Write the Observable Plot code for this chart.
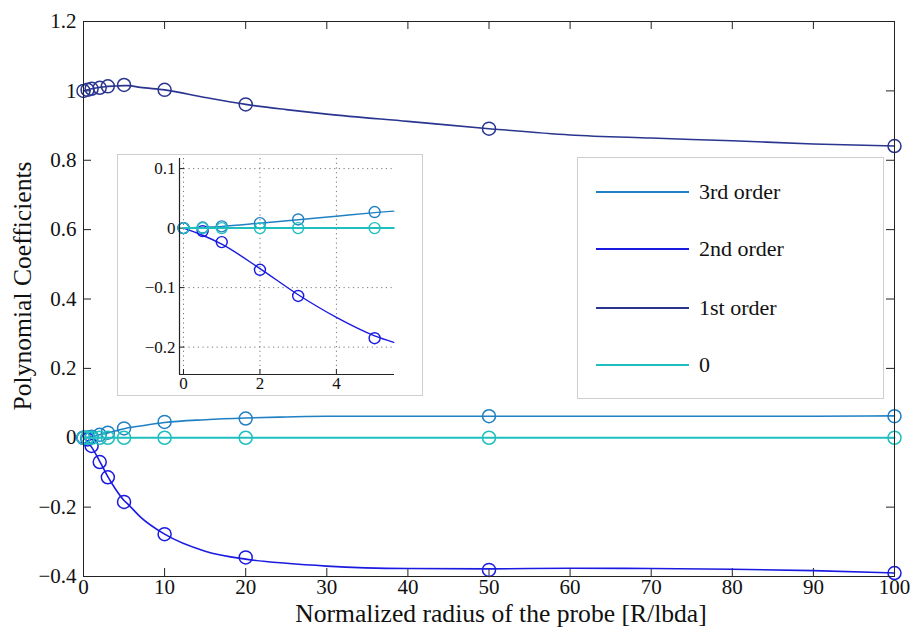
<!DOCTYPE html>
<html><head><meta charset="utf-8">
<script src="https://cdn.jsdelivr.net/npm/d3@7"></script>
<script src="https://cdn.jsdelivr.net/npm/@observablehq/plot@0.6"></script>
<style>
*{font-family:'Liberation Serif',serif !important;}
svg text{font-family:'Liberation Serif',serif !important;}
body{margin:0;background:#fff;}
#wrap{position:relative;width:917px;height:637px;color:#111;}
#wrap svg{display:block;}
#inset{position:absolute;left:117px;top:154px;width:306px;height:242px;border:1px solid #cfcfcf;background:#fff;box-sizing:border-box;}
#legend{position:absolute;left:577px;top:157px;width:307px;height:242px;border:1px solid #cfcfcf;background:#fff;box-sizing:border-box;}
.lrow{position:absolute;left:0;width:100%;height:0;}
.lline{position:absolute;left:18px;width:93px;height:2px;top:-1px;}
.ltext{position:absolute;left:121px;top:-13px;font-size:22px;line-height:26px;white-space:nowrap;}
</style></head>
<body><div id="wrap"></div>
<script>
// measured points (circles)
const radius = [0, 0.5, 1, 2, 3, 5, 10, 20, 50, 100];
const order0 = [0, 0, 0, 0, 0, 0, 0, 0, 0, 0];
const order1 = [1.000, 1.003, 1.006, 1.009, 1.013, 1.017, 1.003, 0.961, 0.891, 0.841];
const order2 = [0, -0.005, -0.0235, -0.070, -0.114, -0.185, -0.278, -0.345, -0.381, -0.390];
const order3 = [0, 0.001, 0.003, 0.0084, 0.0146, 0.027, 0.0456, 0.0554, 0.062, 0.062];

// fitted curves
const fitRadius = [0, 0.5, 1, 2, 3, 4, 5, 5.5, 7, 10, 15, 20, 25, 30, 40, 50, 60, 70, 80, 90, 100];
const fit0 = [0, 0, 0, 0, 0, 0, 0, 0, 0, 0, 0, 0, 0, 0, 0, 0, 0, 0, 0, 0, 0];
const fit1 = [1.000, 1.003, 1.006, 1.010, 1.013, 1.014, 1.015, 1.015, 1.010, 1.003, 0.981, 0.961, 0.946, 0.933, 0.912, 0.891, 0.873, 0.864, 0.856, 0.847, 0.841];
const fit2 = [0, -0.012, -0.027, -0.068, -0.112, -0.150, -0.181, -0.192, -0.228, -0.278, -0.327, -0.350, -0.362, -0.370, -0.377, -0.378, -0.376, -0.377, -0.379, -0.383, -0.390];
const fit3 = [0, 0.0015, 0.003, 0.0084, 0.014, 0.020, 0.026, 0.0286, 0.034, 0.044, 0.052, 0.057, 0.060, 0.062, 0.062, 0.062, 0.062, 0.062, 0.062, 0.062, 0.063];

const seriesNames = ["3rd order", "2nd order", "1st order", "0"];
const seriesColors = ["#1f80c4", "#1a1ae0", "#2a3590", "#1fbfbf"];
const seriesPoints = [order3, order2, order1, order0];
const seriesFits = [fit3, fit2, fit1, fit0];

const xTicks = [0, 10, 20, 30, 40, 50, 60, 70, 80, 90, 100];
const yTicks = [-0.4, -0.2, 0, 0.2, 0.4, 0.6, 0.8, 1, 1.2];
const xDomain = [0, 100];
const yDomain = [-0.4, 1.2];

const insetXTicks = [0, 2, 4];
const insetYTicks = [-0.2, -0.1, 0, 0.1];
const insetXDomain = [-0.105, 5.52];
const insetYDomain = [-0.246, 0.117];

const xLabel = "Normalized radius of the probe [R/lbda]";
const yLabel = "Polynomial Coefficients";

const fmt = d => String(d).replace("-", "\u2212");

const pts = seriesNames.map((s, k) => radius.map((r, i) => ({r, v: seriesPoints[k][i]})));
const fits = seriesNames.map((s, k) => fitRadius.map((r, i) => ({r, v: seriesFits[k][i]})));

const W = 917, H = 637, mL = 83, mR = 23, mT = 21, mB = 61;
const fW = W - mL - mR, fH = H - mT - mB, tl = 8;
const font = "'Liberation Serif', serif";

const mainMarks = [];
mainMarks.push(Plot.ruleX(xTicks, {x: d => d, insetTop: fH - tl, stroke: "#222"}));
mainMarks.push(Plot.ruleX(xTicks, {x: d => d, insetBottom: fH - tl, stroke: "#222"}));
mainMarks.push(Plot.ruleY(yTicks, {y: d => d, insetRight: fW - tl, stroke: "#222"}));
mainMarks.push(Plot.ruleY(yTicks, {y: d => d, insetLeft: fW - tl, stroke: "#222"}));
seriesNames.forEach((s, k) => {
  mainMarks.push(Plot.line(fits[k], {x: "r", y: "v", stroke: seriesColors[k], strokeWidth: k === 3 ? 2 : 1.6, curve: "monotone-x"}));
  mainMarks.push(Plot.dot(pts[k], {x: "r", y: "v", r: 6.5, stroke: seriesColors[k], fill: "none", strokeWidth: 1.5}));
});
mainMarks.push(Plot.frame({stroke: "#222"}));
mainMarks.push(Plot.axisX({ticks: xTicks, tickFormat: fmt, tickSize: 0, tickPadding: 3, fontSize: 21, label: null}));
mainMarks.push(Plot.axisY({ticks: yTicks, tickFormat: fmt, tickSize: 0, tickPadding: 7, fontSize: 21, label: null}));
mainMarks.push(Plot.text([xLabel], {frameAnchor: "bottom", dx: 12, dy: 37, fontSize: 25.6, lineAnchor: "middle", textAnchor: "middle", fill: "#111"}));
mainMarks.push(Plot.text([yLabel], {frameAnchor: "left", dx: -61, dy: -13, rotate: -90, fontSize: 25.6, lineAnchor: "middle", textAnchor: "middle", fill: "#111"}));

const main = Plot.plot({
  width: W, height: H, marginLeft: mL, marginRight: mR, marginTop: mT, marginBottom: mB,
  style: {background: "white", color: "#111", overflow: "visible", fontFamily: font},
  x: {domain: xDomain}, y: {domain: yDomain},
  marks: mainMarks
});

const wrap = document.getElementById("wrap");
wrap.appendChild(main);

// inset
const iW = 304, iH = 240, imL = 61, imR = 28, imT = 3, imB = 21;
const ifW = iW - imL - imR, ifH = iH - imT - imB, itl = 5;
const insetMarks = [
  Plot.gridX({ticks: insetXTicks, stroke: "#777", strokeOpacity: 1, strokeDasharray: "1.2,3.5"}),
  Plot.gridY({ticks: insetYTicks, stroke: "#777", strokeOpacity: 1, strokeDasharray: "1.2,3.5"}),
  Plot.ruleX(insetXTicks, {x: d => d, insetTop: ifH - itl, stroke: "#222"}),
  Plot.ruleY(insetYTicks, {y: d => d, insetRight: ifW - itl, stroke: "#222"})
];
[0, 1, 3].forEach(k => {
  insetMarks.push(Plot.line(fits[k].filter(d => d.r <= insetXDomain[1]), {x: "r", y: "v", stroke: seriesColors[k], strokeWidth: k === 3 ? 2 : 1.4, curve: "monotone-x"}));
  insetMarks.push(Plot.dot(pts[k].filter(d => d.r <= insetXDomain[1]), {x: "r", y: "v", r: 5.5, stroke: seriesColors[k], fill: "none", strokeWidth: 1.4}));
});
insetMarks.push(Plot.ruleX([insetXDomain[0]], {x: d => d, stroke: "#222", strokeWidth: 1.2}));
insetMarks.push(Plot.ruleY([insetYDomain[0]], {y: d => d, stroke: "#222", strokeWidth: 1.2}));
insetMarks.push(Plot.axisX({ticks: insetXTicks, tickFormat: fmt, tickSize: 0, tickPadding: 2, fontSize: 17, label: null}));
insetMarks.push(Plot.axisY({ticks: insetYTicks, tickFormat: fmt, tickSize: 0, tickPadding: 4, fontSize: 17, label: null}));

const inset = Plot.plot({
  width: iW, height: iH, marginLeft: imL, marginRight: imR, marginTop: imT, marginBottom: imB,
  style: {background: "white", color: "#111", fontFamily: font},
  x: {domain: insetXDomain}, y: {domain: insetYDomain},
  marks: insetMarks
});
const insetDiv = document.createElement("div");
insetDiv.id = "inset";
insetDiv.appendChild(inset);
wrap.appendChild(insetDiv);

// legend
const legendRowsY = [34, 91, 150, 207];
const legend = document.createElement("div");
legend.id = "legend";
seriesNames.forEach((s, k) => {
  const row = document.createElement("div");
  row.className = "lrow";
  row.style.top = legendRowsY[k] + "px";
  const ln = document.createElement("div");
  ln.className = "lline";
  ln.style.background = seriesColors[k];
  const tx = document.createElement("div");
  tx.className = "ltext";
  tx.textContent = s;
  row.appendChild(ln); row.appendChild(tx);
  legend.appendChild(row);
});
wrap.appendChild(legend);
</script>
</body></html>
